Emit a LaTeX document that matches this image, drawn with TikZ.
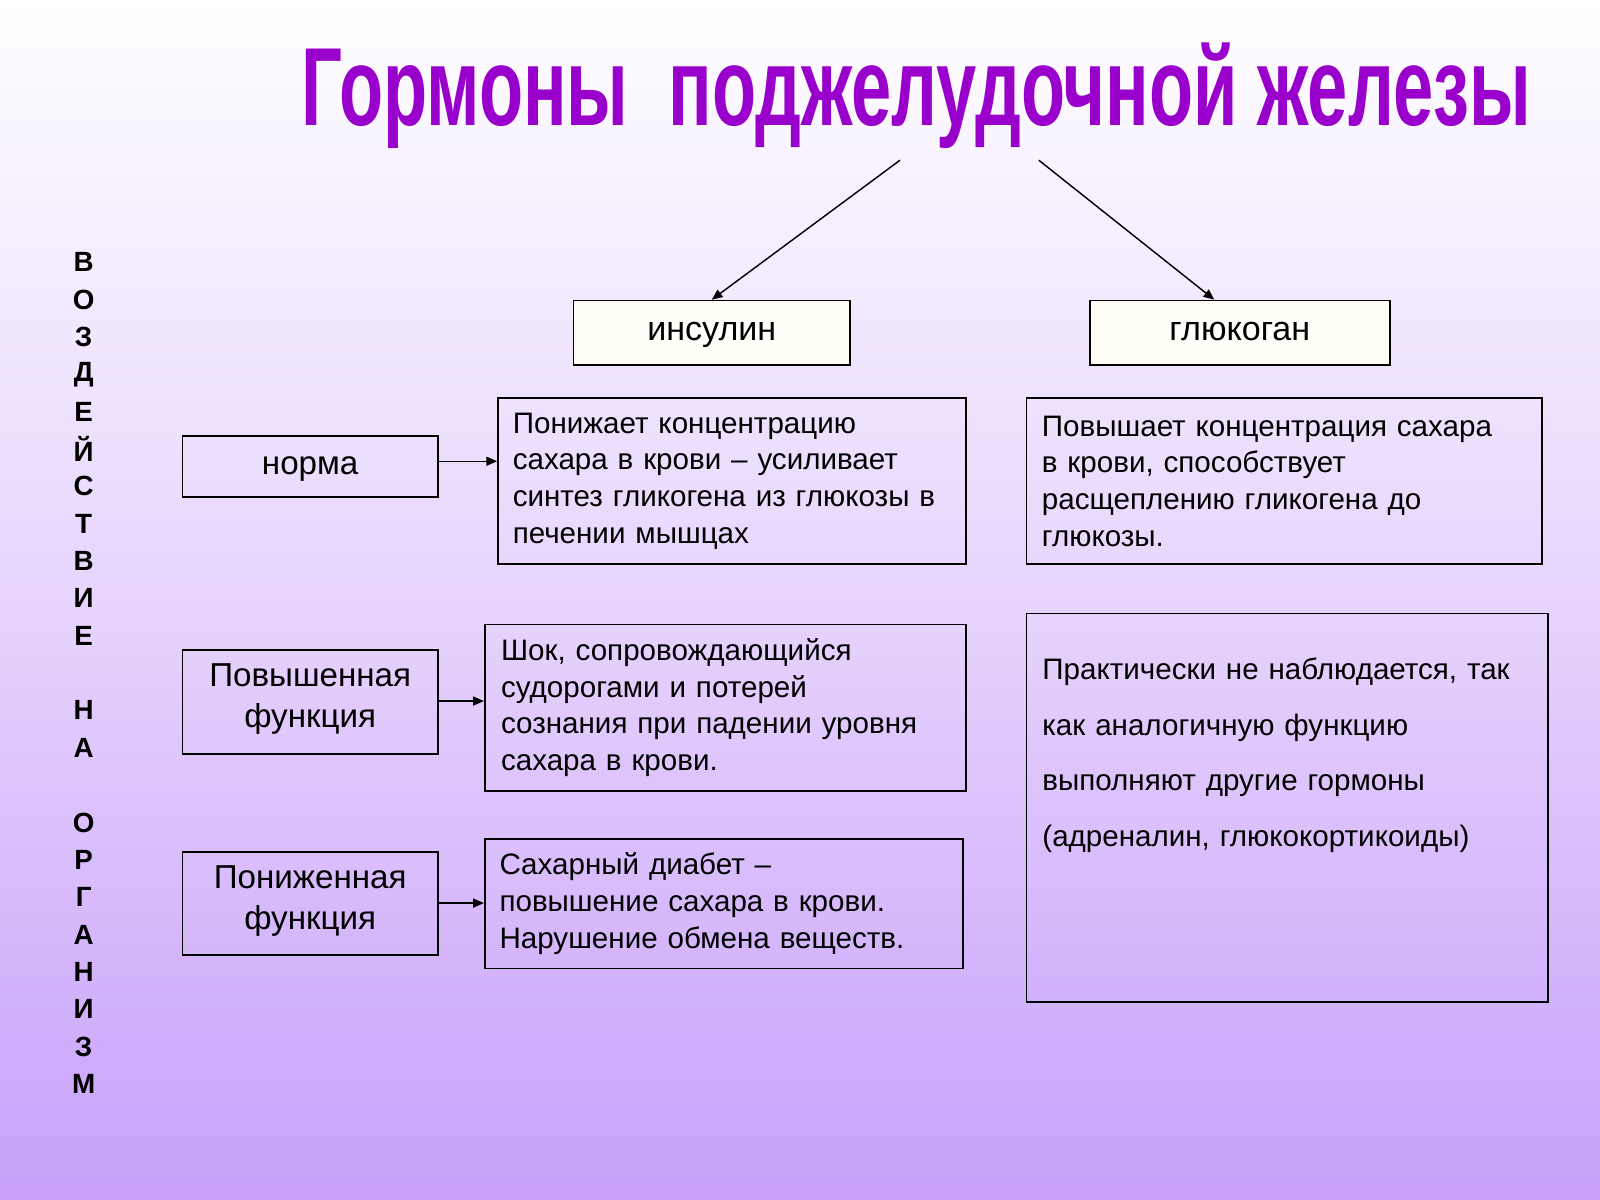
\documentclass[tikz,border=0pt]{standalone}
\usepackage{fontspec}
\setmainfont{Liberation Sans}
\usetikzlibrary{positioning,arrows.meta}
\definecolor{lilac}{RGB}{200,160,250}
\definecolor{titlepurple}{RGB}{153,0,204}
\tikzset{
      box/.style = { draw, line width=0.9pt, font=\fontsize{16.5}{20.5}\selectfont, align=left, inner sep=0pt },
  hormone/.style = { draw, line width=0.9pt, fill=yellow!3, font=\fontsize{19}{23}\selectfont, execute at begin node=\strut },
    level/.style = { draw, line width=0.9pt, font=\fontsize{18.5}{23}\selectfont, align=center, execute at begin node=\strut },
     link/.style = { -{Triangle[length=6pt,width=5pt]}, line width=0.8pt }
}
\begin{document}
\begin{tikzpicture}[x=0.02cm, y=-0.02cm]
  % background
  \shade[top color=white, bottom color=lilac, middle color=white!55!lilac, shading angle=0]
    (0,0) rectangle (1568,1176);
  \path[use as bounding box] (0,0) rectangle (1568,1176);

  % title
  \node[font=\fontsize{62}{62}\selectfont\bfseries, text=titlepurple, xscale=0.65] (title) at (898,94)
    {Гормоны\ \ поджелудочной железы};
  \coordinate (tl) at (882,157);
  \coordinate (tr) at (1018,157);

  % hormones
  \node[hormone, minimum width=5.42cm, minimum height=1.26cm] (ins) at (697.5,326) {инсулин};
  \node[hormone, minimum width=5.88cm, minimum height=1.26cm] (glu) at (1215,326) {глюкоган};
  \draw[link] (tl) -- (ins.north);
  \draw[link] (tr) -- (1190,0 |- glu.north);

  % side label
  \foreach \ch [count=\i from 0] in {В,О,З,Д,Е,Й,С,Т,В,И,Е,{},Н,А,{},О,Р,Г,А,Н,И,З,М}
    \node[font=\fontsize{15.5}{16}\selectfont\bfseries] at (82,257+36.6*\i) {\ch};

  % levels
  \node[level, minimum width=5cm, minimum height=1.2cm] (norm) at (304,457) {норма};
  \node[level, minimum width=5cm, minimum height=2.04cm] (up) at (304,688) {Повышенная\\функция};
  \node[level, minimum width=5cm, minimum height=2.02cm] (down) at (304,885.5) {Пониженная\\функция};

  % insulin effects
  \node[box, minimum width=9.18cm, minimum height=3.26cm, text width=8.6cm] (insnorm) at (717.5,471.5)
    {Понижает\ концентрацию\\сахара\ в крови – усиливает\\синтез гликогена\ из глюкозы в\\печении\ мышцах};
  \node[box, minimum width=9.44cm, minimum height=3.26cm, text width=8.8cm] (insup) at (711,693.5)
    {Шок, сопровождающийся\\судорогами\ и потерей\\сознания\ при падении\ уровня\\сахара\ в крови.};
  \node[box, minimum width=9.38cm, minimum height=2.54cm, text width=8.8cm] (insdown) at (709.5,885.5)
    {Сахарный\ диабет –\\повышение\ сахара\ в крови.\\Нарушение\ обмена\ веществ.};
  \draw[link] (norm.east |- 0,452) -- (insnorm.west |- 0,452);
  \draw[link] (up.east |- 0,687) -- (insup.west |- 0,687);
  \draw[link] (down.east |- 0,885) -- (insdown.west |- 0,885);

  % glucagon effects
  \node[box, minimum width=10.1cm, minimum height=3.26cm, text width=9.5cm] (glunorm) at (1258.5,471.5)
    {Повышает\ концентрация\ сахара\\в крови,\ способствует\\расщеплению\ гликогена\ до\\глюкозы.};
  \node[box, minimum width=10.22cm, minimum height=7.62cm, text width=9.6cm,
        font=\fontsize{16.5}{31}\selectfont] (gluup) at (1261.5,791.5)
    {Практически\ не наблюдается,\ так\\как аналогичную\ функцию\\выполняют\ другие гормоны\\(адреналин,\ глюкокортикоиды)\\\mbox{}\\\mbox{}};
\end{tikzpicture}
\end{document}
